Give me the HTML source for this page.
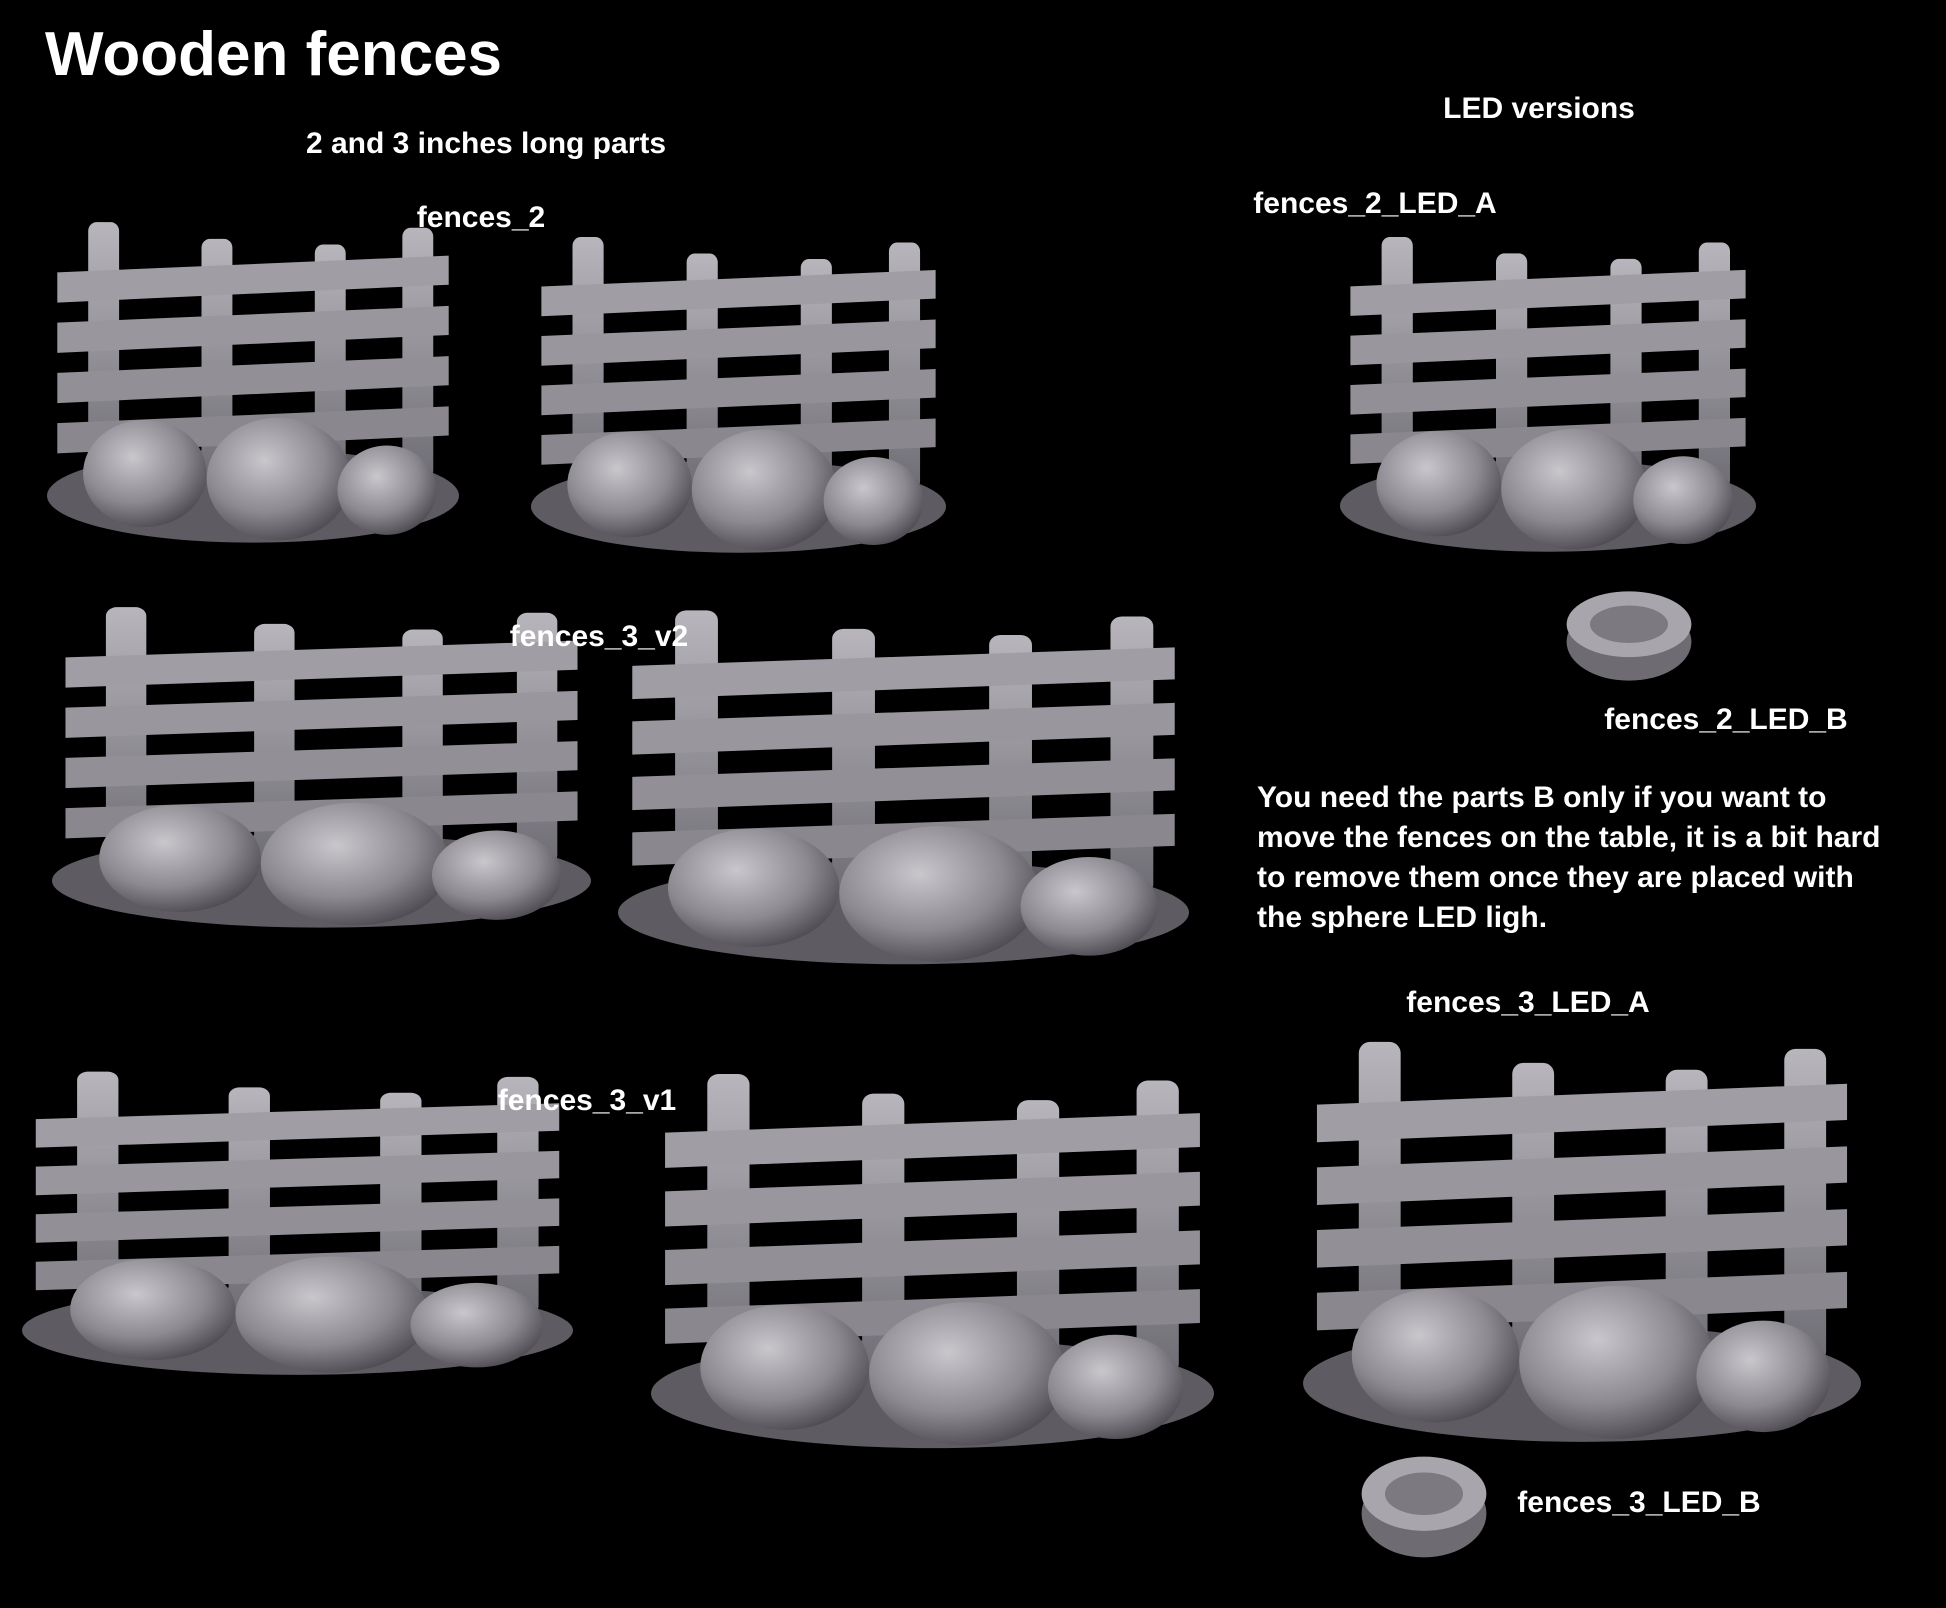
<!DOCTYPE html>
<html><head><meta charset="utf-8">
<style>
html,body{margin:0;padding:0;background:#000;}
body{width:1946px;height:1608px;position:relative;overflow:hidden;font-family:"Liberation Sans",sans-serif;color:#fff;font-weight:bold;}
.t{position:absolute;white-space:nowrap;font-size:30px;transform:translateX(-50%);line-height:1;}
svg{position:absolute;left:0;top:0;}
</style></head><body>
<svg width="1946" height="1608" viewBox="0 0 1946 1608">
<defs>
<linearGradient id="g" x1="0" y1="0" x2="0" y2="1">
<stop offset="0" stop-color="#b8b6bc"/><stop offset="1" stop-color="#6f6d74"/>
</linearGradient>
<radialGradient id="p" cx="0.4" cy="0.35" r="0.7">
<stop offset="0" stop-color="#c9c7cc"/><stop offset="0.6" stop-color="#8c8a90"/><stop offset="1" stop-color="#4a484e"/>
</radialGradient>
<symbol id="fence" viewBox="0 0 400 300" preserveAspectRatio="none">
<ellipse cx="200" cy="255" rx="200" ry="42" fill="#5e5c62"/>
<rect x="40" y="10" width="30" height="230" rx="8" fill="url(#g)"/>
<rect x="150" y="25" width="30" height="215" rx="8" fill="url(#g)"/>
<rect x="260" y="30" width="30" height="210" rx="8" fill="url(#g)"/>
<rect x="345" y="15" width="30" height="225" rx="8" fill="url(#g)"/>
<polygon points="10,55 390,40 390,66 10,82" fill="#a09ea4"/>
<polygon points="10,100 390,85 390,111 10,127" fill="#99979d"/>
<polygon points="10,145 390,130 390,156 10,172" fill="#929096"/>
<polygon points="10,190 390,175 390,201 10,217" fill="#8a888e"/>
<ellipse cx="95" cy="235" rx="60" ry="48" fill="url(#p)"/>
<ellipse cx="225" cy="240" rx="70" ry="55" fill="url(#p)"/>
<ellipse cx="330" cy="250" rx="48" ry="40" fill="url(#p)"/>
</symbol>
<symbol id="cap" viewBox="0 0 100 80" preserveAspectRatio="none">
<ellipse cx="50" cy="45" rx="48" ry="33" fill="#6e6c72"/>
<ellipse cx="50" cy="30" rx="48" ry="28" fill="#a8a6ac"/>
<ellipse cx="50" cy="30" rx="30" ry="16" fill="#7c7a80"/>
</symbol>
</defs>
<use href="#fence" x="47" y="211" width="412" height="335"/>
<use href="#fence" x="531" y="226" width="415" height="330"/>
<use href="#fence" x="1340" y="226" width="416" height="329"/>
<use href="#cap" x="1564" y="589" width="130" height="94"/>
<use href="#fence" x="52" y="596" width="539" height="335"/>
<use href="#fence" x="618" y="598" width="571" height="370"/>
<use href="#fence" x="22" y="1061" width="551" height="317"/>
<use href="#fence" x="651" y="1061" width="563" height="391"/>
<use href="#fence" x="1303" y="1028" width="558" height="418"/>
<use href="#cap" x="1359" y="1454" width="130" height="106"/>
</svg>
<div class="t" style="left:45px;top:24px;font-size:62px;transform:none;">Wooden fences</div>
<div class="t" style="left:486px;top:129px;">2 and 3 inches long parts</div>
<div class="t" style="left:481px;top:203px;">fences_2</div>
<div class="t" style="left:1539px;top:94px;">LED versions</div>
<div class="t" style="left:1375px;top:189px;">fences_2_LED_A</div>
<div class="t" style="left:599px;top:622px;">fences_3_v2</div>
<div class="t" style="left:1726px;top:705px;">fences_2_LED_B</div>
<div style="position:absolute;left:1257px;top:778px;font-size:30px;line-height:40px;">You need the parts B only if you want to<br>move the fences on the table, it is a bit hard<br>to remove them once they are placed with<br>the sphere LED ligh.</div>
<div class="t" style="left:1528px;top:988px;">fences_3_LED_A</div>
<div class="t" style="left:587px;top:1086px;">fences_3_v1</div>
<div class="t" style="left:1639px;top:1488px;">fences_3_LED_B</div>
</body></html>
